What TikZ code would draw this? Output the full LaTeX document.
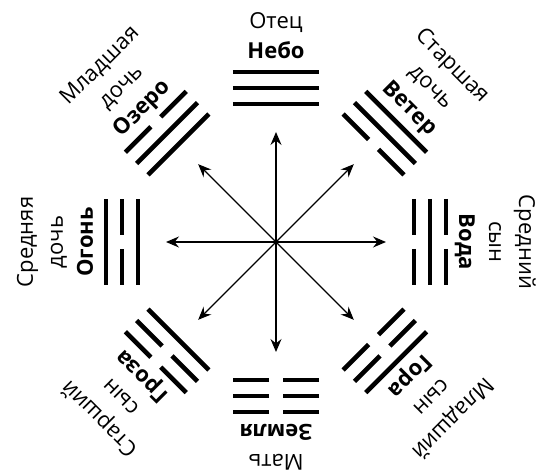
\documentclass[tikz,border=0pt]{standalone}
\usepackage{fontspec}
\setmainfont{Open Sans}
\usetikzlibrary{arrows.meta}

\begin{document}
\begin{tikzpicture}[x=0.5pt,y=0.5pt,>={Stealth[length=6.5pt,width=5.5pt,inset=2.2pt]},every node/.style={font=\fontsize{11}{15}\selectfont,inner sep=0pt},yao/.style={line width=2.3pt},gua/.style={anchor=base,font=\fontsize{11}{15}\selectfont\bfseries},kin/.style={anchor=base},ray/.style={->,line width=0.6pt}]
\useasboundingbox (-276,-233) rectangle (264,242);
\coordinate (o) at (0,0);
\coordinate (n) at (90:110);
\coordinate (ne) at (45:110);
\coordinate (e) at (0:110);
\coordinate (se) at (-45:110);
\coordinate (s) at (-90:110);
\coordinate (sw) at (-135:110);
\coordinate (w) at (180:110);
\coordinate (nw) at (135:110);
\draw[ray] (o)--(n);
\draw[ray] (o)--(ne);
\draw[ray] (o)--(e);
\draw[ray] (o)--(se);
\draw[ray] (o)--(s);
\draw[ray] (o)--(sw);
\draw[ray] (o)--(w);
\draw[ray] (o)--(nw);
% heaven
\begin{scope}[rotate=0,transform shape]
\draw[yao] (-43,138)--(43,138) (-43,154)--(43,154) (-43,170)--(43,170);
\node[gua] (heaven) at (0,183) {Небо};
\node[kin] (father) at (0,213) {Отец};
\end{scope}
% wind
\begin{scope}[rotate=-45,transform shape]
\draw[yao] (-43,138)--(-7,138) (7,138)--(43,138) (-43,154)--(43,154) (-43,170)--(43,170);
\node[gua] (wind) at (0,183) {Ветер};
\node[kin] (wind-b) at (0,213) {дочь};
\node[kin] (wind-a) at (0,243) {Старшая};
\end{scope}
% water
\begin{scope}[rotate=-90,transform shape]
\draw[yao] (-43,138)--(-7,138) (7,138)--(43,138) (-43,154)--(43,154) (-43,170)--(-7,170) (7,170)--(43,170);
\node[gua] (water) at (0,183) {Вода};
\node[kin] (water-b) at (0,213) {сын};
\node[kin] (water-a) at (0,243) {Средний};
\end{scope}
% mountain
\begin{scope}[rotate=-135,transform shape]
\draw[yao] (-43,138)--(-7,138) (7,138)--(43,138) (-43,154)--(-7,154) (7,154)--(43,154) (-43,170)--(43,170);
\node[gua] (mountain) at (0,183) {Гора};
\node[kin] (mountain-b) at (0,213) {сын};
\node[kin] (mountain-a) at (0,243) {Младший};
\end{scope}
% earth
\begin{scope}[rotate=180,transform shape]
\draw[yao] (-43,138)--(-7,138) (7,138)--(43,138) (-43,154)--(-7,154) (7,154)--(43,154) (-43,170)--(-7,170) (7,170)--(43,170);
\node[gua] (earth) at (0,183) {Земля};
\node[kin] (mother) at (0,213) {Мать};
\end{scope}
% thunder
\begin{scope}[rotate=135,transform shape]
\draw[yao] (-43,138)--(43,138) (-43,154)--(-7,154) (7,154)--(43,154) (-43,170)--(-7,170) (7,170)--(43,170);
\node[gua] (thunder) at (0,183) {Гроза};
\node[kin] (thunder-b) at (0,213) {сын};
\node[kin] (thunder-a) at (0,243) {Старший};
\end{scope}
% fire
\begin{scope}[rotate=90,transform shape]
\draw[yao] (-43,138)--(43,138) (-43,154)--(-7,154) (7,154)--(43,154) (-43,170)--(43,170);
\node[gua] (fire) at (0,183) {Огонь};
\node[kin] (fire-b) at (0,213) {дочь};
\node[kin] (fire-a) at (0,243) {Средняя};
\end{scope}
% lake
\begin{scope}[rotate=45,transform shape]
\draw[yao] (-43,138)--(43,138) (-43,154)--(43,154) (-43,170)--(-7,170) (7,170)--(43,170);
\node[gua] (lake) at (0,183) {Озеро};
\node[kin] (lake-b) at (0,213) {дочь};
\node[kin] (lake-a) at (0,243) {Младшая};
\end{scope}
\end{tikzpicture}
\end{document}
